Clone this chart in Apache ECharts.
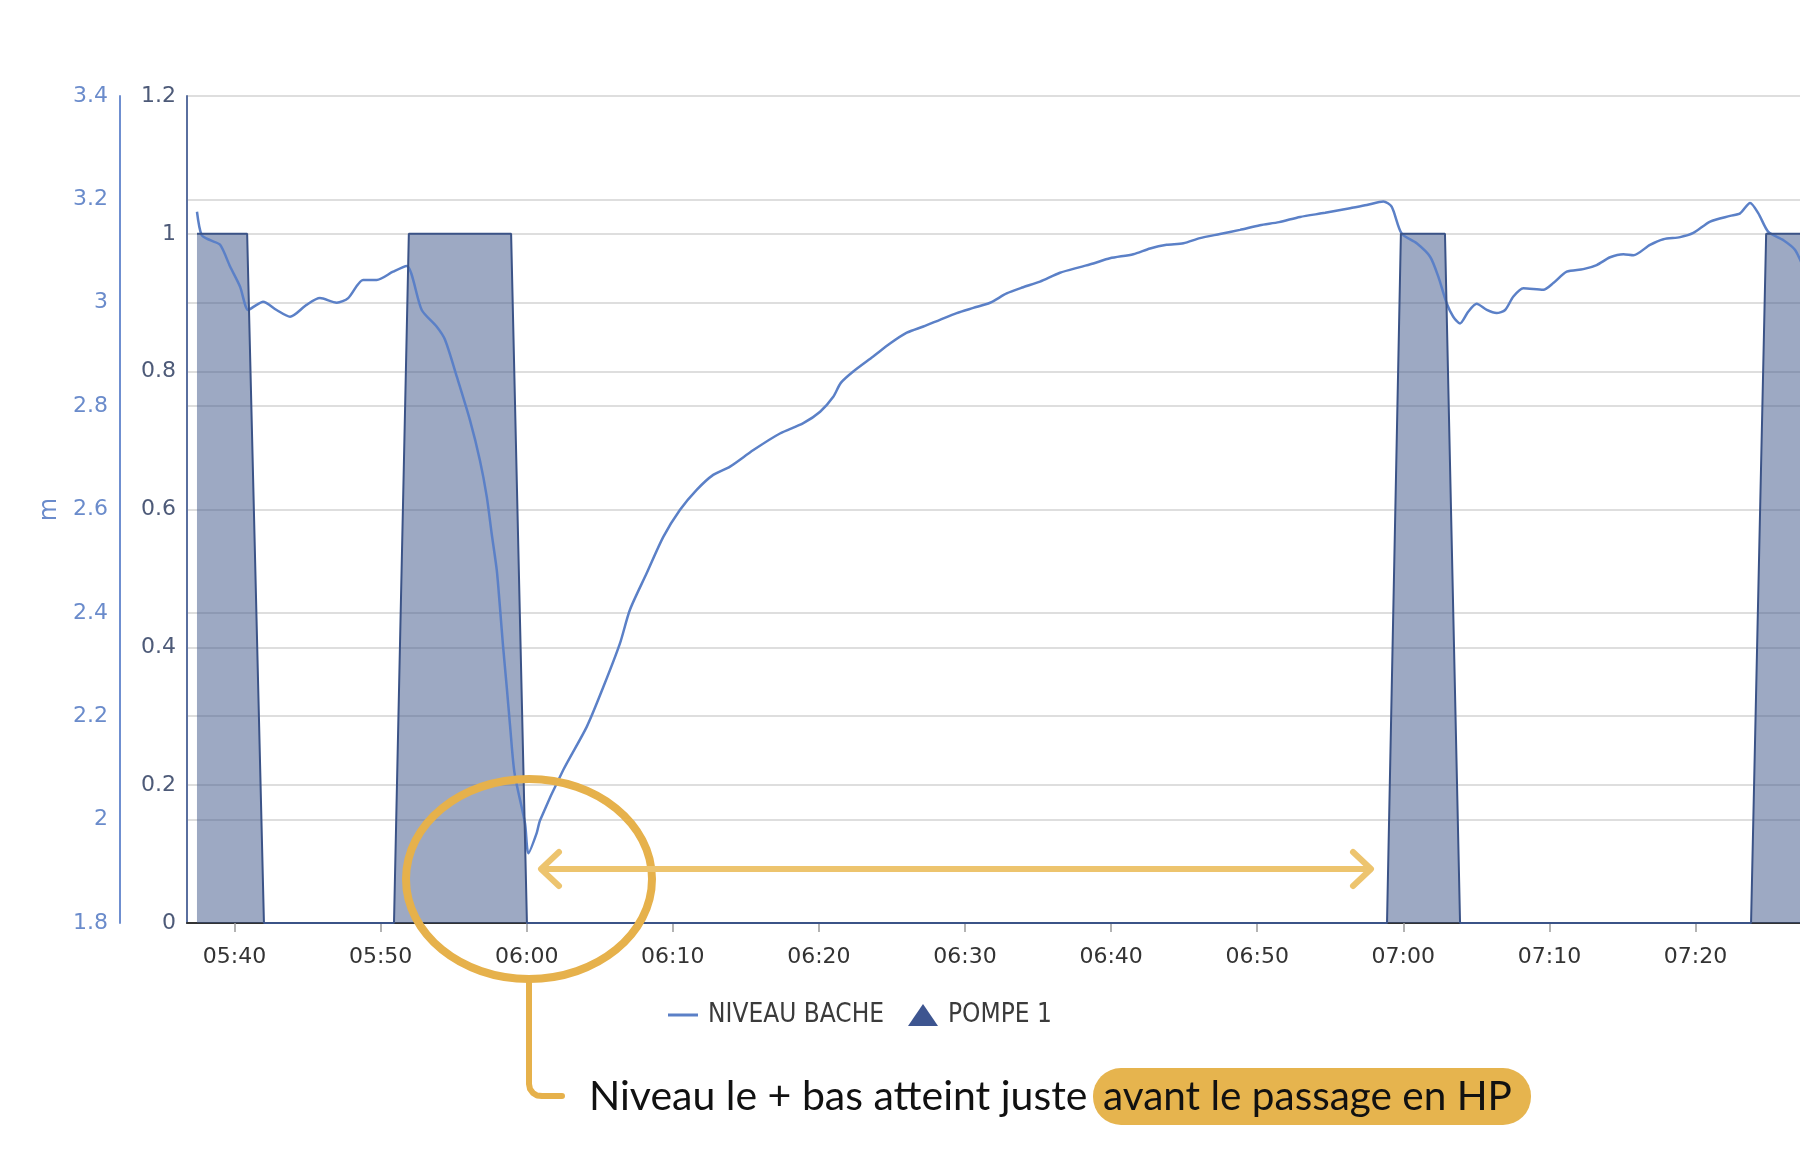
<!DOCTYPE html>
<html>
<head>
<meta charset="utf-8">
<title>Niveau bâche / pompe 1</title>
<script src="https://cdn.jsdelivr.net/npm/echarts@6.0.0/dist/echarts.min.js"></script>
<style>
  html, body { margin: 0; padding: 0; background: #fff; }
  #chart { width: 1800px; height: 1158px; }
</style>
</head>
<body>
<div id="chart"></div>
<script>
// jour fictif, seules les heures comptent
var day = '2024-01-01T'

// NIVEAU BACHE (m)
var levelTimes = ['05:37:26', '05:37:45', '05:38:20', '05:39:01', '05:39:42', '05:40:23', '05:40:56', '05:41:31',
  '05:41:57', '05:42:53', '05:43:48', '05:44:56', '05:45:51', '05:47:00', '05:47:47', '05:48:48', '05:49:44',
  '05:50:51', '05:51:47', '05:52:49', '05:53:50', '05:54:25', '05:55:13', '05:56:07', '05:56:48', '05:57:16',
  '05:57:36', '05:57:57', '05:58:10', '05:58:23', '05:58:38', '05:58:52', '05:59:10', '05:59:53', '06:00:07',
  '06:00:41', '06:00:55', '06:02:30', '06:04:07', '06:05:15', '06:06:23', '06:07:04', '06:08:13', '06:09:21',
  '06:10:29', '06:11:38', '06:12:46', '06:13:55', '06:15:31', '06:17:20', '06:18:56', '06:20:05', '06:20:59',
  '06:21:30', '06:22:21', '06:23:43', '06:24:52', '06:26:01', '06:27:09', '06:28:17', '06:29:26', '06:30:34',
  '06:31:43', '06:32:51', '06:33:59', '06:35:08', '06:36:30', '06:37:52', '06:38:47', '06:39:55', '06:41:31',
  '06:42:40', '06:43:48', '06:44:57', '06:46:05', '06:47:27', '06:48:49', '06:50:11', '06:51:30', '06:52:56',
  '06:54:39', '06:56:21', '06:57:30', '06:58:38', '06:59:12', '06:59:53', '07:00:55', '07:01:50', '07:02:24',
  '07:02:58', '07:03:25', '07:03:53', '07:04:27', '07:05:01', '07:05:43', '07:06:23', '07:06:58', '07:07:32',
  '07:08:13', '07:09:35', '07:10:16', '07:11:11', '07:12:19', '07:13:14', '07:14:09', '07:15:04', '07:15:45',
  '07:16:53', '07:17:48', '07:18:57', '07:19:51', '07:21:00', '07:22:22', '07:23:03', '07:23:44', '07:24:18',
  '07:24:59', '07:26:01', '07:26:49', '07:27:30']
var levelValues = [3.176, 3.131, 3.121, 3.112, 3.070, 3.031, 2.986, 2.996,
  3.002, 2.986, 2.973, 2.996, 3.009, 3.000, 3.009, 3.044, 3.044,
  3.060, 3.071, 2.986, 2.954, 2.928, 2.857, 2.773, 2.695, 2.625,
  2.554, 2.483, 2.412, 2.335, 2.257, 2.180, 2.090, 1.993, 1.935,
  1.974, 1.999, 2.096, 2.180, 2.257, 2.341, 2.406, 2.477, 2.547,
  2.599, 2.638, 2.667, 2.683, 2.715, 2.747, 2.767, 2.789, 2.818,
  2.845, 2.867, 2.896, 2.921, 2.942, 2.954, 2.967, 2.980, 2.990,
  3.000, 3.018, 3.030, 3.041, 3.058, 3.069, 3.076, 3.086, 3.094,
  3.105, 3.112, 3.115, 3.125, 3.133, 3.141, 3.150, 3.156, 3.166,
  3.174, 3.183, 3.189, 3.196, 3.186, 3.134, 3.115, 3.089, 3.050,
  2.999, 2.973, 2.960, 2.983, 2.998, 2.986, 2.980, 2.986, 3.012,
  3.028, 3.025, 3.038, 3.060, 3.065, 3.073, 3.088, 3.094, 3.092,
  3.112, 3.123, 3.127, 3.135, 3.157, 3.168, 3.173, 3.193, 3.173,
  3.137, 3.121, 3.102, 3.060]

// POMPE 1 (marche = 1 / arret = 0)
var pumpTimes = ['05:37:26', '05:40:52', '05:42:01', '05:50:55', '05:51:56', '05:58:56', '06:00:01',
  '06:58:53', '06:59:50', '07:02:51', '07:03:53', '07:23:48', '07:24:50', '07:28:00']
var pumpValues = [1, 1, 0, 0, 1, 1, 0, 0, 1, 1, 0, 0, 1, 1]

// graduations
var xTickLabels = ['05:40', '05:50', '06:00', '06:10', '06:20', '06:30', '06:40', '06:50', '07:00', '07:10', '07:20']
var xMin = '05:36:45'
var xMax = '07:27:09'

function ts(t) {
  return new Date(day + t).getTime()
}

var levelData = levelTimes.map(function (t, i) { return [ts(t), levelValues[i]] })
var pumpData = pumpTimes.map(function (t, i) { return [ts(t), pumpValues[i]] })
var tickValues = xTickLabels.map(function (t) { return ts(t + ':00') })

var gold = '#e6b14b'

var chart = echarts.init(document.getElementById('chart'))
chart.setOption({
  animation: false,
  backgroundColor: '#fff',
  grid: {
    left: 187,
    right: 0,
    top: 96,
    bottom: 235
  },
  legend: {
    left: 663,
    top: 997,
    itemWidth: 30,
    itemHeight: 22,
    itemGap: 24,
    textStyle: {
      fontFamily: 'DejaVu Sans Condensed',
      fontSize: 26,
      color: '#3b3b3b',
      padding: [0, 0, 0, 5]
    },
    data: [
      { name: 'NIVEAU BACHE', icon: 'path://M0,0 L30,0 L30,3 L0,3 Z' },
      { name: 'POMPE 1', icon: 'triangle' }
    ]
  },
  xAxis: {
    type: 'time',
    min: ts(xMin),
    max: ts(xMax),
    minInterval: 600000,
    maxInterval: 600000,
    axisLine: { lineStyle: { color: '#333', width: 2 } },
    axisTick: {
      show: true,
      length: 9,
      customValues: tickValues,
      lineStyle: { color: '#9a9a9a', width: 1.5 }
    },
    axisLabel: {
      customValues: tickValues,
      formatter: '{HH}:{mm}',
      margin: 23,
      color: '#333',
      fontFamily: 'DejaVu Sans',
      fontSize: 22
    },
    splitLine: { show: false }
  },
  yAxis: [{
    // niveau en m
    type: 'value',
    position: 'left',
    offset: 67,
    min: 1.8,
    max: 3.4,
    interval: 0.2,
    name: 'm',
    nameLocation: 'middle',
    nameGap: 58,
    nameMoveOverlap: false,
    nameTextStyle: {
      color: '#6a8bcb',
      fontFamily: 'DejaVu Sans',
      fontSize: 24
    },
    axisLine: { show: true, lineStyle: { color: '#6f8fd0', width: 2 } },
    axisTick: { show: false },
    axisLabel: {
      margin: 12,
      color: '#6a8bcb',
      fontFamily: 'DejaVu Sans',
      fontSize: 22
    },
    splitLine: { show: true, lineStyle: { color: '#dedede', width: 2 } }
  }, {
    // pompe
    type: 'value',
    position: 'left',
    offset: 0,
    min: 0,
    max: 1.2,
    interval: 0.2,
    axisLine: { show: true, lineStyle: { color: '#5a6f9f', width: 2 } },
    axisTick: { show: false },
    axisLabel: {
      margin: 11,
      color: '#4d5a78',
      fontFamily: 'DejaVu Sans',
      fontSize: 22
    },
    splitLine: { show: true, lineStyle: { color: '#dedede', width: 2 } }
  }],
  series: [{
    name: 'NIVEAU BACHE',
    type: 'line',
    yAxisIndex: 0,
    data: levelData,
    symbol: 'none',
    smooth: 0.25,
    color: '#5b80c7',
    lineStyle: { color: '#5b80c7', width: 2.5 }
  }, {
    name: 'POMPE 1',
    type: 'line',
    yAxisIndex: 1,
    data: pumpData,
    symbol: 'none',
    color: '#3d5590',
    itemStyle: { color: '#3d5590' },
    lineStyle: { color: '#3b5387', width: 2 },
    areaStyle: { color: '#3b5387', opacity: 0.5 }
  }],
  graphic: [
    // cercle autour du minimum
    {
      type: 'ellipse',
      z: 100,
      shape: { cx: 529, cy: 879, rx: 123, ry: 100 },
      style: { fill: 'none', stroke: gold, lineWidth: 8 }
    },
    {
      type: 'polyline',
      z: 100,
      shape: { points: [[529, 983], [529, 1084], [530, 1089], [533, 1093], [537, 1095.5], [542, 1096], [562, 1096]] },
      style: { fill: 'none', stroke: gold, lineWidth: 6, lineCap: 'round', lineJoin: 'round' }
    },
    // double fleche
    {
      type: 'line',
      z: 100,
      shape: { x1: 542, y1: 869, x2: 1370, y2: 869 },
      style: { stroke: '#edc46e', lineWidth: 6, lineCap: 'round' }
    },
    {
      type: 'polyline',
      z: 100,
      shape: { points: [[559, 852], [541, 869], [559, 886]] },
      style: { fill: 'none', stroke: '#edc46e', lineWidth: 6, lineCap: 'round', lineJoin: 'round' }
    },
    {
      type: 'polyline',
      z: 100,
      shape: { points: [[1353, 852], [1371, 869], [1353, 886]] },
      style: { fill: 'none', stroke: '#edc46e', lineWidth: 6, lineCap: 'round', lineJoin: 'round' }
    },
    // commentaire
    {
      type: 'rect',
      z: 100,
      shape: { x: 1093, y: 1068, width: 438, height: 57, r: 28 },
      style: { fill: '#e6b44e' }
    },
    {
      type: 'text',
      z: 101,
      x: 589,
      y: 1097,
      style: {
        text: 'Niveau le + bas atteint juste',
        fontFamily: 'Lato',
        fontSize: 41,
        fill: '#111',
        verticalAlign: 'middle'
      }
    },
    {
      type: 'text',
      z: 101,
      x: 1103,
      y: 1097,
      style: {
        text: 'avant le passage en HP',
        fontFamily: 'Lato',
        fontSize: 40.5,
        fill: '#111',
        verticalAlign: 'middle'
      }
    }
  ]
})
</script>
</body>
</html>
